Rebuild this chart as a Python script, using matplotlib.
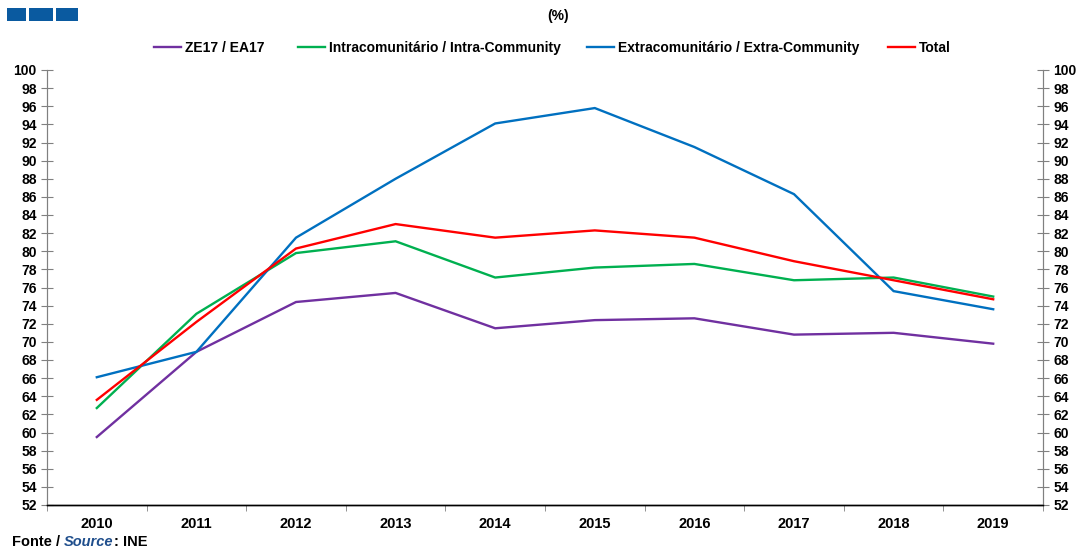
import matplotlib
matplotlib.use("Agg")
import matplotlib.pyplot as plt
from matplotlib.patches import Rectangle
import numpy as np

plt.rcParams['font.family'] = ['Liberation Sans', 'DejaVu Sans']

years = ["2010", "2011", "2012", "2013", "2014", "2015", "2016", "2017", "2018", "2019"]
ze17 = [59.5, 68.9, 74.4, 75.4, 71.5, 72.4, 72.6, 70.8, 71.0, 69.8]
intra = [62.7, 73.1, 79.8, 81.1, 77.1, 78.2, 78.6, 76.8, 77.1, 75.0]
extra = [66.1, 68.9, 81.5, 88.0, 94.1, 95.8, 91.5, 86.3, 75.6, 73.6]
total = [63.6, 72.2, 80.3, 83.0, 81.5, 82.3, 81.5, 78.9, 76.8, 74.7]

series = [
    ("ZE17 / EA17", ze17, "#7030a0"),
    ("Intracomunitário / Intra-Community", intra, "#00b050"),
    ("Extracomunitário / Extra-Community", extra, "#0070c0"),
    ("Total", total, "#ff0000"),
]

W, H = 1083, 548
fig = plt.figure(figsize=(W / 100, H / 100), dpi=100)
ax = fig.add_axes([47 / W, 1 - 505 / H, (1043 - 47) / W, (505 - 70) / H])

x = np.arange(len(years))
handles = []
for name, vals, col in series:
    h, = ax.plot(x, vals, color=col, lw=1.7, label=name, solid_joinstyle='miter')
    handles.append(h)

ax.set_xlim(-0.5, len(years) - 0.5)
ax.set_ylim(52, 100)
yt = np.arange(52, 101, 2)
ax.set_yticks(yt)
ax.set_yticklabels([str(v) for v in yt], fontsize=10, fontweight='bold')
ax.set_xticks(x)
ax.set_xticklabels(years, fontsize=10.5, fontweight='bold')
ax.tick_params(axis='x', which='major', length=0, pad=9)
ax.set_xticks(np.arange(-0.5, len(years), 1), minor=True)
ax.tick_params(axis='x', which='minor', length=4, color='#808080', direction='out')
ax.tick_params(axis='y', direction='inout', length=9, color='#808080', pad=3)

ax2 = ax.twinx()
ax2.set_ylim(52, 100)
ax2.set_yticks(yt)
ax2.set_yticklabels([str(v) for v in yt], fontsize=10, fontweight='bold')
ax2.tick_params(axis='y', direction='inout', length=9, color='#808080', pad=3)

for a in (ax, ax2):
    a.spines['top'].set_visible(False)
    a.spines['left'].set_color('#808080')
    a.spines['right'].set_color('#808080')
    a.spines['bottom'].set_color('#000000')
    a.spines['bottom'].set_linewidth(1.0)

# legend entries placed as in the reference (Excel-style spacing)
leg_x = [154, 298, 587, 888]
for h, lx in zip(handles, leg_x):
    fig.legend(handles=[h], loc='center left', bbox_to_anchor=(lx / W, 1 - 48 / H),
               frameon=False, handlelength=1.95, handletextpad=0.3,
               borderpad=0, borderaxespad=0, prop={'size': 10, 'weight': 'bold'})

fig.text(558 / W, 1 - 16 / H, "(%)", ha='center', va='center', fontsize=10, fontweight='bold')

for x0, x1 in [(7, 26), (29, 53), (56, 78)]:
    fig.patches.append(Rectangle((x0 / W, 1 - 21 / H), (x1 - x0) / W, 13 / H,
                                 transform=fig.transFigure, facecolor='#0a5aa0',
                                 edgecolor='none', lw=0))

y_src = 1 - 542 / H
t1 = fig.text(12 / W, y_src, "Fonte / ", fontsize=10.5, fontweight='bold', va='center')
fig.canvas.draw()
bb = t1.get_window_extent()
t2 = fig.text(bb.x1 / W, y_src, "Source", fontsize=10.5, fontweight='bold', style='italic',
              color='#1f4e8c', va='center')
fig.canvas.draw()
bb2 = t2.get_window_extent()
fig.text(bb2.x1 / W, y_src, ": INE", fontsize=10.5, fontweight='bold', va='center')

fig.savefig("out.png", dpi=100)
